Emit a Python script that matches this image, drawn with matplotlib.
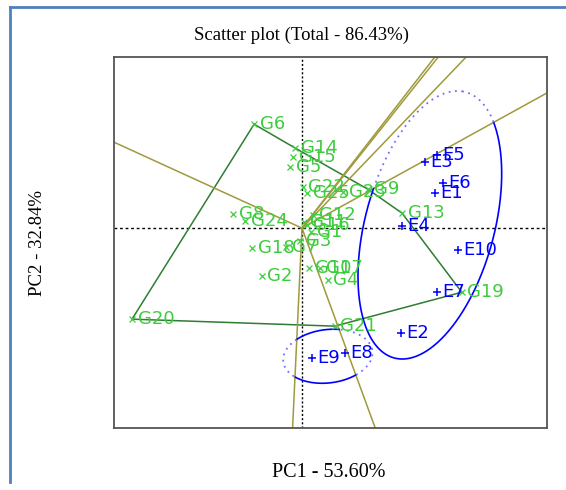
import numpy as np
import matplotlib.pyplot as plt
from matplotlib.lines import Line2D

# genotype scores (PC1, PC2)
genotypes = ["G1", "G2", "G3", "G4", "G5", "G6", "G7", "G8", "G9", "G10",
             "G11", "G12", "G13", "G14", "G15", "G16", "G17", "G18", "G19", "G20",
             "G21", "G22", "G23", "G24", "G25"]
gen_pc1 = [0.22, -0.98, -0.05, 0.63, -0.29, -1.17, -0.39, -1.68, 1.61, 0.17,
           0.05, 0.27, 2.44, -0.17, -0.22, 0.12, 0.44, -1.22, 3.90, -4.15,
           0.80, 0.02, 1.00, -1.39, 0.12]
gen_pc2 = [-0.11, -1.37, -0.37, -1.49, 1.74, 2.97, -0.54, 0.40, 1.11, -1.14,
           0.17, 0.37, 0.43, 2.29, 2.03, 0.09, -1.14, -0.57, -1.83, -2.60,
           -2.80, 1.17, 1.03, 0.20, 1.00]

# environment scores (PC1, PC2)
environments = ["E1", "E2", "E3", "E4", "E5", "E6", "E7", "E8", "E9", "E10"]
env_pc1 = [3.24, 2.41, 3.00, 2.44, 3.29, 3.44, 3.29, 1.05, 0.24, 3.80]
env_pc2 = [1.00, -3.00, 1.89, 0.06, 2.09, 1.29, -1.83, -3.57, -3.71, -0.63]

# vertex genotypes of the polygon (clockwise)
hull = ["G6", "G14", "G9", "G13", "G19", "G21", "G20"]

# mega-environment ellipses
ell_cx = [3.12, 0.63]
ell_cy = [0.09, -3.66]
ell_a = [3.90, 1.10]
ell_b = [1.59, 0.76]
ell_angle = [78, 10]
ell_sector = ["G19", "G21"]

gen_col = "#3dcc3d"
env_col = "#0000ff"
ray_col = "#a09a3c"
poly_col = "#2e7d32"

fig = plt.figure(figsize=(5.66, 4.9), dpi=100)
ax = fig.add_axes([114/566, 62/490, 433/566, 371/490])
ax.set_xlim(-4.59, 5.98)
ax.set_ylim(-5.71, 4.89)
ax.set_xticks([])
ax.set_yticks([])
for s in ax.spines.values():
    s.set_color("#555555")
    s.set_linewidth(1.3)

# origin lines
ax.axhline(0, color="black", lw=1, ls=(0, (2, 2)))
ax.axvline(0, color="black", lw=1, ls=(0, (1.5, 1.5)))

gx = dict(zip(genotypes, gen_pc1))
gy = dict(zip(genotypes, gen_pc2))
hx = np.array([gx[g] for g in hull])
hy = np.array([gy[g] for g in hull])

# polygon
ax.plot(np.append(hx, hx[0]), np.append(hy, hy[0]), color=poly_col, lw=1.1)

# rays perpendicular to polygon sides
normals = []
for i in range(len(hull)):
    dx = hx[(i + 1) % len(hull)] - hx[i]
    dy = hy[(i + 1) % len(hull)] - hy[i]
    n = np.array([-dy, dx]) / np.hypot(dx, dy)
    normals.append(np.degrees(np.arctan2(n[1], n[0])))
    ax.plot([0, n[0] * 50], [0, n[1] * 50], color=ray_col, lw=1.1)

# ellipses, solid inside their sector, dotted outside
t = np.linspace(0, 2 * np.pi, 600)
for cx, cy, a, b, ang, sec in zip(ell_cx, ell_cy, ell_a, ell_b, ell_angle, ell_sector):
    th = np.radians(ang)
    ex = cx + a * np.cos(th) * np.cos(t) - b * np.sin(th) * np.sin(t)
    ey = cy + a * np.sin(th) * np.cos(t) + b * np.cos(th) * np.sin(t)
    k = hull.index(sec)
    n_in = normals[k - 1]
    n_out = normals[k]
    phi = np.degrees(np.arctan2(ey, ex))
    width = (n_in - n_out) % 360
    inside = ((n_in - phi) % 360) <= width
    ax.plot(ex, np.where(inside, ey, np.nan), color="blue", lw=1.2)
    ax.plot(ex, np.where(~inside, ey, np.nan), color="#6f6fff", lw=1.3,
            ls=(0, (1, 2.5)))

# genotype points
ax.plot(gen_pc1, gen_pc2, ls="none", marker="x", ms=4.5, mew=0.9, color=gen_col)
for name, x, y in zip(genotypes, gen_pc1, gen_pc2):
    ax.annotate(name, (x, y), xytext=(4, 0), textcoords="offset points",
                va="center", ha="left", fontsize=13, color=gen_col,
                family="DejaVu Sans")

# environment points
ax.plot(env_pc1, env_pc2, ls="none", marker="+", ms=6, mew=1.1, color=env_col)
for name, x, y in zip(environments, env_pc1, env_pc2):
    ax.annotate(name, (x, y), xytext=(4, 0), textcoords="offset points",
                va="center", ha="left", fontsize=13, color=env_col,
                family="DejaVu Sans")

# titles
fig.text(301/566, 1 - 35/490, "Scatter plot (Total - 86.43%)", ha="center",
         va="center", fontsize=13.5, family="Liberation Serif")
fig.text(329/566, 1 - 472/490, "PC1 - 53.60%", ha="center", va="center",
         fontsize=14.5, family="Liberation Serif")
fig.text(37/566, 1 - 243/490, "PC2 - 32.84%", ha="center", va="center",
         rotation=90, fontsize=13.5, family="Liberation Serif")

# blue frame of the text box
fig.add_artist(Line2D([10/566, 10/566], [1 - 482/490, 1 - 7/490],
                      color="#4f81bd", lw=2))
fig.add_artist(Line2D([10/566, 1], [1 - 7/490, 1 - 7/490],
                      color="#4f81bd", lw=2))

fig.savefig("out.png", dpi=100)
